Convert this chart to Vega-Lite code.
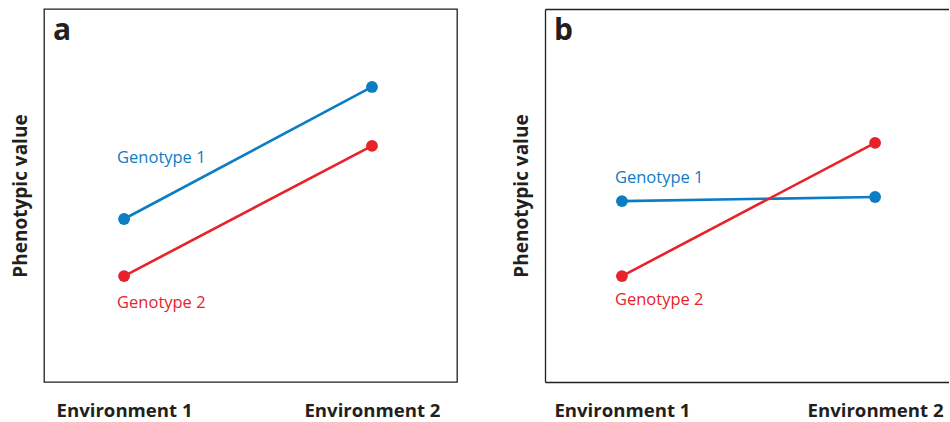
{
  "$schema": "https://vega.github.io/schema/vega-lite/v6.json",
  "padding": {"left": 10, "top": 8, "right": 0, "bottom": 0},
  "background": "white",
  "spacing": 54,
  "config": {
    "font": "Open Sans",
    "view": {"stroke": "#231f20", "strokeWidth": 1.3},
    "axisX": {"title": null, "labelAngle": 0, "ticks": false, "domain": false, "grid": false, "labelFontSize": 18.6, "labelFontWeight": "bold", "labelPadding": 19, "labelColor": "#231f20", "domainColor": "#231f20", "domainWidth": 1.3},
    "axisY": {"labels": false, "ticks": false, "domain": false, "grid": false, "titleFontSize": 19, "titleFontWeight": "bold", "titleColor": "#231f20", "titlePadding": 14, "domainColor": "#231f20", "domainWidth": 1.3},
    "title": {"anchor": "start", "frame": "group", "fontSize": 30, "fontWeight": "bold", "color": "#231f20", "baseline": "alphabetic", "offset": -37, "dx": 9}
  },
  "datasets": {
    "points": [
      {"panel": "a", "genotype": "Genotype 1", "environment": "Environment 1", "value": 43.7},
      {"panel": "a", "genotype": "Genotype 1", "environment": "Environment 2", "value": 79.1},
      {"panel": "a", "genotype": "Genotype 2", "environment": "Environment 1", "value": 28.4},
      {"panel": "a", "genotype": "Genotype 2", "environment": "Environment 2", "value": 63.3},
      {"panel": "b", "genotype": "Genotype 1", "environment": "Environment 1", "value": 48.5},
      {"panel": "b", "genotype": "Genotype 1", "environment": "Environment 2", "value": 49.6},
      {"panel": "b", "genotype": "Genotype 2", "environment": "Environment 1", "value": 28.4},
      {"panel": "b", "genotype": "Genotype 2", "environment": "Environment 2", "value": 64.1}
    ],
    "labels": [
      {"panel": "a", "genotype": "Genotype 1", "environment": "Environment 1", "value": 60.0},
      {"panel": "a", "genotype": "Genotype 2", "environment": "Environment 1", "value": 21.2},
      {"panel": "b", "genotype": "Genotype 1", "environment": "Environment 1", "value": 54.7},
      {"panel": "b", "genotype": "Genotype 2", "environment": "Environment 1", "value": 22.0}
    ]
  },
  "hconcat": [
    {
      "width": 413,
      "height": 373,
      "title": "a",
      "layer": [
        {
          "data": {"name": "points"},
          "transform": [{"filter": "datum.panel === 'a'"}],
          "mark": {"type": "line", "strokeWidth": 2.6},
          "encoding": {
            "x": {"field": "environment", "type": "ordinal", "scale": {"type": "point", "padding": 0.333, "align": 0.485}},
            "y": {"field": "value", "type": "quantitative", "scale": {"domain": [0, 100], "nice": false}, "title": "Phenotypic value"},
            "color": {"field": "genotype", "type": "nominal", "scale": {"domain": ["Genotype 1", "Genotype 2"], "range": ["#0d7dc3", "#e8222b"]}, "legend": null}
          }
        },
        {
          "data": {"name": "points"},
          "transform": [{"filter": "datum.panel === 'a'"}],
          "mark": {"type": "circle", "size": 140, "opacity": 1},
          "encoding": {
            "x": {"field": "environment", "type": "ordinal"},
            "y": {"field": "value", "type": "quantitative"},
            "color": {"field": "genotype", "type": "nominal"}
          }
        },
        {
          "data": {"name": "labels"},
          "transform": [{"filter": "datum.panel === 'a'"}],
          "mark": {"type": "text", "align": "left", "baseline": "middle", "dx": -7, "fontSize": 16.5},
          "encoding": {
            "x": {"field": "environment", "type": "ordinal"},
            "y": {"field": "value", "type": "quantitative"},
            "text": {"field": "genotype"},
            "color": {"field": "genotype", "type": "nominal"}
          }
        }
      ]
    },
    {
      "width": 404,
      "height": 373,
      "title": "b",
      "view": {"stroke": null},
      "resolve": {"axis": {"x": "independent"}},
      "layer": [
        {
          "data": {"name": "points"},
          "transform": [{"filter": "datum.panel === 'b'"}],
          "mark": {"type": "line", "strokeWidth": 2.6},
          "encoding": {
            "x": {"field": "environment", "type": "ordinal", "scale": {"type": "point", "padding": 0.298, "align": 0.51}, "axis": {"domain": true}},
            "y": {"field": "value", "type": "quantitative", "scale": {"domain": [0, 100], "nice": false}, "title": "Phenotypic value", "axis": {"domain": true}},
            "color": {"field": "genotype", "type": "nominal", "scale": {"domain": ["Genotype 1", "Genotype 2"], "range": ["#0d7dc3", "#e8222b"]}, "legend": null}
          }
        },
        {
          "data": {"name": "points"},
          "transform": [{"filter": "datum.panel === 'b'"}],
          "mark": {"type": "circle", "size": 140, "opacity": 1},
          "encoding": {
            "x": {"field": "environment", "type": "ordinal", "axis": null},
            "y": {"field": "value", "type": "quantitative"},
            "color": {"field": "genotype", "type": "nominal"}
          }
        },
        {
          "data": {"name": "labels"},
          "transform": [{"filter": "datum.panel === 'b'"}],
          "mark": {"type": "text", "align": "left", "baseline": "middle", "dx": -7, "fontSize": 16.5},
          "encoding": {
            "x": {"field": "environment", "type": "ordinal", "axis": {"orient": "top", "labels": false, "domain": true}},
            "y": {"field": "value", "type": "quantitative"},
            "text": {"field": "genotype"},
            "color": {"field": "genotype", "type": "nominal"}
          }
        }
      ]
    }
  ]
}
